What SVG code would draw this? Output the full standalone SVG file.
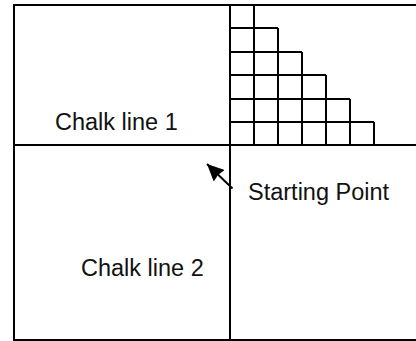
<svg xmlns="http://www.w3.org/2000/svg" width="416" height="341" viewBox="0 0 416 341">
<style>
.ln{stroke:#000;stroke-width:2;fill:none;stroke-linecap:square}
.gr{stroke:#000;stroke-width:2;fill:none}
.lbl{font-family:"Liberation Sans",Arial,sans-serif;font-size:23.5px;fill:#111}
</style>
<defs>
<marker id="ah" markerWidth="17" markerHeight="16" refX="17" refY="8" orient="auto" markerUnits="userSpaceOnUse">
<path d="M0,0 L17,8 L0,16 L1.5,8 Z" fill="#000"/>
</marker>
</defs>
<rect width="416" height="341" fill="#fff"/>
<g id="frame">
<line class="ln" x1="14" y1="5" x2="416" y2="5"/>
<line class="ln" x1="14" y1="5" x2="14" y2="340"/>
<line class="ln" x1="14" y1="340" x2="416" y2="340"/>
</g>
<g id="chalk-lines">
<line class="ln" x1="14" y1="145" x2="416" y2="145"/>
<line class="ln" x1="230" y1="5" x2="230" y2="340"/>
</g>
<g id="tiles">
<path class="gr" d="M254,5 V145 M278,28 V145 M302,52 V145 M326,75 V145 M350,99 V145 M374,122 V145 M230,28 H278 M230,52 H302 M230,75 H326 M230,99 H350 M230,122 H374"/>
</g>
<g id="connectors">
<line x1="232.5" y1="188.5" x2="207" y2="164" stroke="#000" stroke-width="2" marker-end="url(#ah)"/>
</g>
<g id="label-chalk1"><text class="lbl" x="55" y="130">Chalk line 1</text></g>
<g id="label-chalk2"><text class="lbl" x="81" y="276">Chalk line 2</text></g>
<g id="label-start"><text class="lbl" x="248" y="200">Starting Point</text></g>
</svg>
